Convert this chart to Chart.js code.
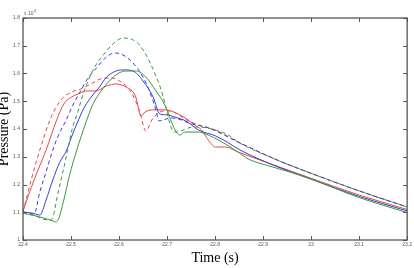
<!DOCTYPE html>
<html>
<head>
<meta charset="utf-8">
<script src="https://cdn.jsdelivr.net/npm/chart.js@4.4.1/dist/chart.umd.min.js"></script>
<style>
  body { margin: 0; background: #fff; }
  canvas { display: block; }
</style>
</head>
<body>
<canvas id="presion" width="414" height="268"></canvas>
<script>
// ticks
const xTicks = [22.4, 22.5, 22.6, 22.7, 22.8, 22.9, 23, 23.1, 23.2];
const yTicks = [1, 1.1, 1.2, 1.3, 1.4, 1.5, 1.6, 1.7, 1.8];

// presion en unidades de 10^4 Pa
const redSolidT = [22.400, 22.423, 22.448, 22.470, 22.485, 22.501, 22.520, 22.530, 22.551, 22.574, 22.594, 22.615, 22.634, 22.646, 22.654, 22.671, 22.696, 22.714, 22.735, 22.755, 22.772, 22.786, 22.801, 22.822, 22.848, 22.931, 22.999, 23.100, 23.200];
const redSolidP = [1.105, 1.216, 1.324, 1.432, 1.490, 1.515, 1.530, 1.537, 1.537, 1.555, 1.562, 1.551, 1.519, 1.447, 1.461, 1.469, 1.469, 1.461, 1.443, 1.418, 1.396, 1.360, 1.335, 1.335, 1.317, 1.265, 1.223, 1.162, 1.110];

const redDashT = [22.400, 22.417, 22.435, 22.456, 22.468, 22.483, 22.501, 22.520, 22.541, 22.561, 22.584, 22.605, 22.625, 22.642, 22.656, 22.667, 22.679, 22.693, 22.708, 22.724, 22.745, 22.766, 22.801, 22.848, 22.931, 22.999, 23.100, 23.200];
const redDashP = [1.101, 1.216, 1.324, 1.432, 1.476, 1.512, 1.533, 1.544, 1.562, 1.580, 1.584, 1.569, 1.533, 1.469, 1.393, 1.429, 1.454, 1.465, 1.465, 1.451, 1.429, 1.414, 1.396, 1.353, 1.287, 1.241, 1.177, 1.119];

const blueSolidT = [22.400, 22.419, 22.435, 22.448, 22.462, 22.476, 22.491, 22.501, 22.512, 22.528, 22.547, 22.559, 22.574, 22.594, 22.611, 22.629, 22.650, 22.671, 22.685, 22.700, 22.716, 22.739, 22.766, 22.801, 22.828, 22.848, 22.931, 22.999, 23.100, 23.200];
const blueSolidP = [1.101, 1.097, 1.090, 1.144, 1.216, 1.278, 1.324, 1.371, 1.418, 1.479, 1.526, 1.551, 1.587, 1.609, 1.613, 1.609, 1.573, 1.515, 1.454, 1.451, 1.443, 1.429, 1.396, 1.375, 1.350, 1.328, 1.263, 1.220, 1.157, 1.105];

const blueDashT = [22.400, 22.410, 22.423, 22.435, 22.448, 22.462, 22.474, 22.489, 22.503, 22.520, 22.534, 22.551, 22.574, 22.592, 22.615, 22.631, 22.644, 22.658, 22.671, 22.679, 22.683, 22.691, 22.708, 22.724, 22.745, 22.786, 22.848, 22.931, 22.999, 23.100, 23.200];
const blueDashP = [1.101, 1.097, 1.094, 1.173, 1.245, 1.324, 1.378, 1.429, 1.483, 1.537, 1.580, 1.616, 1.660, 1.674, 1.660, 1.634, 1.605, 1.559, 1.501, 1.454, 1.429, 1.432, 1.440, 1.436, 1.422, 1.404, 1.353, 1.287, 1.241, 1.177, 1.119];

const greenSolidT = [22.400, 22.435, 22.462, 22.468, 22.474, 22.485, 22.497, 22.512, 22.522, 22.530, 22.545, 22.561, 22.574, 22.588, 22.600, 22.615, 22.636, 22.656, 22.677, 22.691, 22.700, 22.710, 22.718, 22.726, 22.737, 22.766, 22.786, 22.807, 22.828, 22.848, 22.869, 22.910, 22.952, 22.999, 23.100, 23.200];
const greenSolidP = [1.097, 1.083, 1.069, 1.065, 1.076, 1.144, 1.234, 1.324, 1.378, 1.418, 1.487, 1.533, 1.562, 1.587, 1.602, 1.609, 1.609, 1.587, 1.537, 1.501, 1.469, 1.422, 1.393, 1.378, 1.389, 1.389, 1.378, 1.360, 1.339, 1.317, 1.292, 1.268, 1.247, 1.220, 1.153, 1.099];

const greenDashT = [22.400, 22.425, 22.452, 22.458, 22.464, 22.472, 22.483, 22.493, 22.503, 22.514, 22.526, 22.547, 22.574, 22.592, 22.609, 22.636, 22.650, 22.665, 22.675, 22.685, 22.696, 22.704, 22.712, 22.720, 22.745, 22.766, 22.801, 22.828, 22.848, 22.931, 22.999, 23.100, 23.200];
const greenDashP = [1.097, 1.087, 1.072, 1.072, 1.094, 1.162, 1.245, 1.324, 1.404, 1.461, 1.530, 1.616, 1.681, 1.714, 1.728, 1.714, 1.685, 1.638, 1.598, 1.555, 1.490, 1.432, 1.393, 1.389, 1.404, 1.407, 1.396, 1.378, 1.353, 1.287, 1.241, 1.177, 1.119];

const ROJO = '#e84848';
const AZUL = '#3c3cdc';
const VERDE = '#3a9a3a';

function serie(t, p, color, dash) {
    return {
        data: t.map((v, i) => ({ x: v, y: p[i] })),
        borderColor: color,
        borderWidth: 1,
        borderDash: dash ? [4, 3] : [],
        pointRadius: 0,
        cubicInterpolationMode: 'monotone',
        fill: false
    };
}

// caja, marcas hacia dentro y factor x10^4
const marco = {
    id: 'marco',
    afterDraw(chart) {
        const { ctx, chartArea: a, scales: { x, y } } = chart;
        ctx.save();
        ctx.strokeStyle = '#555';
        ctx.lineWidth = 1;
        ctx.beginPath();
        x.ticks.forEach(t => {
            const px = Math.round(x.getPixelForValue(t.value)) + 0.5;
            ctx.moveTo(px, a.bottom); ctx.lineTo(px, a.bottom - 4);
            ctx.moveTo(px, a.top); ctx.lineTo(px, a.top + 4);
        });
        y.ticks.forEach(t => {
            const py = Math.round(y.getPixelForValue(t.value)) + 0.5;
            ctx.moveTo(a.left, py); ctx.lineTo(a.left + 4, py);
            ctx.moveTo(a.right, py); ctx.lineTo(a.right - 4, py);
        });
        ctx.stroke();
        ctx.lineWidth = 1.3;
        ctx.strokeRect(a.left, a.top, a.right - a.left, a.bottom - a.top);
        ctx.fillStyle = '#555';
        ctx.font = '5px "Liberation Sans"';
        ctx.textBaseline = 'alphabetic';
        ctx.fillText('x 10', a.left + 1, a.top - 3);
        ctx.font = '4px "Liberation Sans"';
        ctx.fillText('4', a.left + 11, a.top - 6);
        ctx.restore();
    }
};

const fmt = v => String(Number(v.toFixed(1)));

new Chart(document.getElementById('presion'), {
    type: 'line',
    data: {
        datasets: [
            serie(greenSolidT, greenSolidP, VERDE, false),
            serie(greenDashT, greenDashP, VERDE, true),
            serie(blueSolidT, blueSolidP, AZUL, false),
            serie(blueDashT, blueDashP, AZUL, true),
            serie(redSolidT, redSolidP, ROJO, false),
            serie(redDashT, redDashP, ROJO, true)
        ]
    },
    options: {
        responsive: false,
        animation: false,
        layout: { padding: { top: 18, right: 4, left: 0, bottom: 0 } },
        plugins: { legend: { display: false }, tooltip: { enabled: false } },
        scales: {
            x: {
                type: 'linear',
                min: 22.4,
                max: 23.2,
                afterBuildTicks: s => { s.ticks = xTicks.map(v => ({ value: v })); },
                afterFit: s => { s.height = 28; },
                grid: { display: false, drawTicks: false },
                border: { display: false },
                ticks: {
                    autoSkip: false,
                    maxRotation: 0,
                    padding: 2,
                    color: '#555',
                    font: { family: 'Liberation Sans', size: 5 },
                    callback: fmt
                },
                title: {
                    display: true,
                    text: 'Time (s)',
                    color: '#000',
                    font: { family: 'Liberation Serif', size: 14 },
                    padding: { top: 0, bottom: 1 }
                }
            },
            y: {
                min: 1,
                max: 1.8,
                afterBuildTicks: s => { s.ticks = yTicks.map(v => ({ value: v })); },
                afterFit: s => { s.width = 23; },
                grid: { display: false, drawTicks: false },
                border: { display: false },
                ticks: {
                    padding: 3,
                    color: '#555',
                    font: { family: 'Liberation Sans', size: 5 },
                    callback: fmt
                },
                title: {
                    display: true,
                    text: 'Pressure (Pa)',
                    color: '#000',
                    font: { family: 'Liberation Serif', size: 14 },
                    padding: { top: -4, bottom: 0 }
                }
            }
        }
    },
    plugins: [marco]
});
</script>
</body>
</html>
